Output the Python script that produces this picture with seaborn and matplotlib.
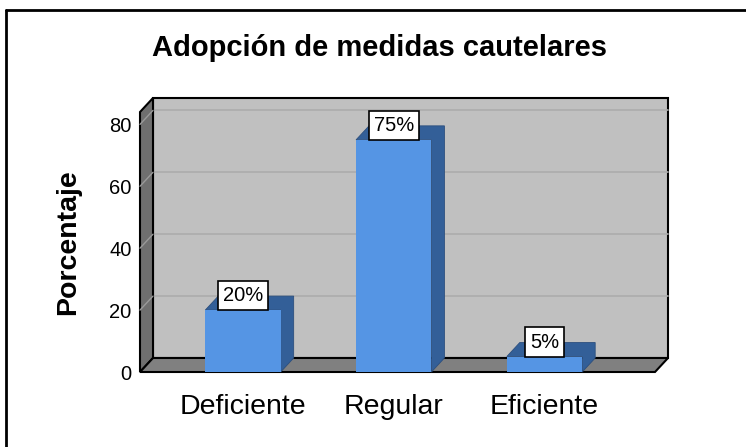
import numpy as np
import pandas as pd
import seaborn as sns
import matplotlib.pyplot as plt
from matplotlib.patches import Polygon
from matplotlib.lines import Line2D
from matplotlib.transforms import IdentityTransform

# datos
categorias = ['Deficiente', 'Regular', 'Eficiente']
porcentajes = [20, 75, 5]
etiquetas = ['20%', '75%', '5%']
marcas_y = [0, 20, 40, 60, 80]

sns.set_style('white')
plt.rcParams['font.family'] = ['Liberation Sans', 'DejaVu Sans']
plt.rcParams['text.color'] = 'black'
plt.rcParams['axes.labelcolor'] = 'black'
plt.rcParams['xtick.color'] = 'black'
plt.rcParams['ytick.color'] = 'black'

W, H = 746, 447
fig = plt.figure(figsize=(W / 100, H / 100), dpi=100)

# plano frontal del grafico (pixeles: x 140-655, y 112-372)
ax = fig.add_axes([140 / W, (H - 372) / H, 515 / W, 260 / H])
ax.patch.set_visible(False)
for s in ax.spines.values():
    s.set_visible(False)

df = pd.DataFrame({'categoria': categorias, 'porcentaje': porcentajes})
sns.barplot(data=df, x='categoria', y='porcentaje', color='#5595e4',
            saturation=1, width=0.5, ax=ax, zorder=4)

ax.set_xlim(-0.683, 2.733)
ax.set_ylim(0, 84)
ax.set_yticks(marcas_y)
ax.tick_params(axis='y', length=0, pad=6, labelsize=14.5)
ax.tick_params(axis='x', length=0, pad=16, labelsize=20.5)
ax.set_xlabel('')
ax.set_ylabel('Porcentaje', fontsize=20.5, fontweight='bold', labelpad=20)

# profundidad 3D en pixeles
DX, DY = 13, 14
idt = IdentityTransform()


def px(x, y, prof=False):
    a, b = ax.transData.transform((x, y))
    if prof:
        a, b = a + DX, b + DY
    return (a, b)


def poly(puntos, fc, ec='black', lw=1.0, z=1):
    p = Polygon(puntos, closed=True, facecolor=fc, edgecolor=ec, linewidth=lw,
                transform=idt, clip_on=False, zorder=z)
    ax.add_patch(p)


x0, x1 = ax.get_xlim()
y0, y1 = ax.get_ylim()

# pared del fondo
poly([px(x0, y0, True), px(x1, y0, True), px(x1, y1, True), px(x0, y1, True)],
     '#c0c0c0', lw=1.5, z=0.5)
for v in marcas_y[1:]:
    a = px(x0, v, True)
    b = px(x1, v, True)
    ax.add_line(Line2D([a[0], b[0]], [a[1], b[1]], color='#acacac', lw=1.2,
                       transform=idt, clip_on=False, zorder=0.6))

# pared izquierda
poly([px(x0, y0), px(x0, y1), px(x0, y1, True), px(x0, y0, True)],
     '#6f6f6f', lw=1.5, z=1)
for v in marcas_y[1:]:
    a = px(x0, v)
    b = px(x0, v, True)
    ax.add_line(Line2D([a[0], b[0]], [a[1], b[1]], color='#9a9a9a', lw=1,
                       transform=idt, clip_on=False, zorder=1.1))

# piso
poly([px(x0, y0), px(x1, y0), px(x1, y0, True), px(x0, y0, True)],
     '#808080', lw=1.5, z=1.2)

# caras laterales y superiores de las barras
for bar, lab in zip(ax.patches[:len(categorias)], etiquetas):
    bx0 = bar.get_x()
    bx1 = bx0 + bar.get_width()
    h = bar.get_height()
    poly([px(bx0, h), px(bx0, h, True), px(bx1, h, True), px(bx1, 0, True),
          px(bx1, 0), px(bx1, h)], '#335f98', ec='#2c4f7e', lw=0.6, z=3)
    bar.set_edgecolor('none')
    ax.annotate(lab, (bx0 + bar.get_width() / 2, h), xytext=(0, 3.6),
                textcoords='offset points', ha='center', va='bottom',
                fontsize=14.5, zorder=6,
                bbox=dict(boxstyle='square,pad=0.25', fc='white', ec='black', lw=1.2))

# titulo
fig.text(380 / W, 1 - 48 / H, 'Adopción de medidas cautelares', ha='center',
         va='center', fontsize=21, fontweight='bold')

# marco exterior (solo borde superior e izquierdo visibles)
fig.add_artist(Line2D([6 / W, 1], [1 - 10 / H, 1 - 10 / H], color='black', lw=2,
                      transform=fig.transFigure))
fig.add_artist(Line2D([6 / W, 6 / W], [0, 1 - 10 / H], color='black', lw=2,
                      transform=fig.transFigure))

fig.savefig('out.png', dpi=100)
